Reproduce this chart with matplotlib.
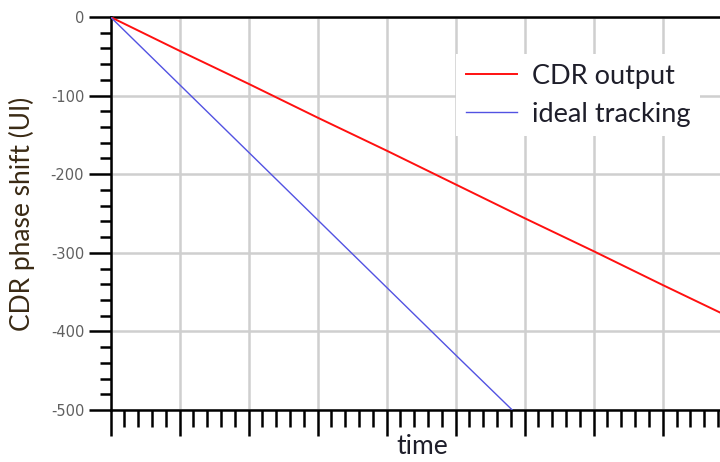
import numpy as np
import matplotlib
matplotlib.use('Agg')
import matplotlib.pyplot as plt
from matplotlib.ticker import MultipleLocator, NullFormatter

plt.rcParams['axes.unicode_minus'] = False

# phase shift of the CDR against elapsed time (time in major-division units)
t_cdr = [0, 1, 2, 3, 4, 5, 6, 7, 8, 8.83]
phase_cdr = [0, -43, -85, -128, -170, -213, -256, -298, -341, -376]

t_ideal = [0, 1, 2, 3, 4, 5, 5.82]
phase_ideal = [0, -86, -172, -258, -344, -430, -500]

fig = plt.figure(figsize=(7.2, 4.62), dpi=100)
ax = fig.add_axes([0.1535, 0.1126, 0.8465, 0.8506])

ax.plot(t_cdr, phase_cdr, color='#ff1010', lw=1.4, label='CDR output', zorder=3)
ax.plot(t_ideal, phase_ideal, color='#5252e2', lw=1.0, label='ideal tracking', zorder=3)

ax.set_xlim(0, 8.83)
ax.set_ylim(-500, 0)

ax.xaxis.set_major_locator(MultipleLocator(1))
ax.xaxis.set_minor_locator(MultipleLocator(0.2))
ax.xaxis.set_major_formatter(NullFormatter())
ax.yaxis.set_major_locator(MultipleLocator(100))
ax.yaxis.set_minor_locator(MultipleLocator(20))

ax.grid(True, which='major', color='#cfcfcf', lw=1.8, zorder=0)

ax.spines['right'].set_visible(False)
for side in ['left', 'bottom', 'top']:
    ax.spines[side].set_linewidth(1.8)
    ax.spines[side].set_color('black')

ax.tick_params(axis='y', which='major', length=16, width=1.8, pad=3,
               labelsize=10.5, labelcolor='#606060')
ax.tick_params(axis='y', which='minor', length=8, width=1.8)
ax.tick_params(axis='x', which='major', length=19, width=1.8)
ax.tick_params(axis='x', which='minor', length=12, width=1.8)

ax.set_ylabel('CDR phase shift (UI)', fontsize=19, family='Lato', color='#3a2a14',
              va='center')
ax.yaxis.set_label_coords(-0.146, 0.5)
ax.set_xlabel('time', fontsize=19, family='Lato', color='#1e1e2a', va='center')
ax.xaxis.set_label_coords(0.511, -0.094)

leg = ax.legend(loc='upper left', bbox_to_anchor=(0.567, 0.905), frameon=True,
                facecolor='white', edgecolor='none', framealpha=1, fancybox=False,
                borderaxespad=0, borderpad=0.35,
                handlelength=1.9, handletextpad=0.55, labelspacing=0.47,
                prop={'family': 'Lato', 'size': 19.5})
for txt in leg.get_texts():
    txt.set_color('#1e1e2a')

fig.savefig('out.png', dpi=100)
